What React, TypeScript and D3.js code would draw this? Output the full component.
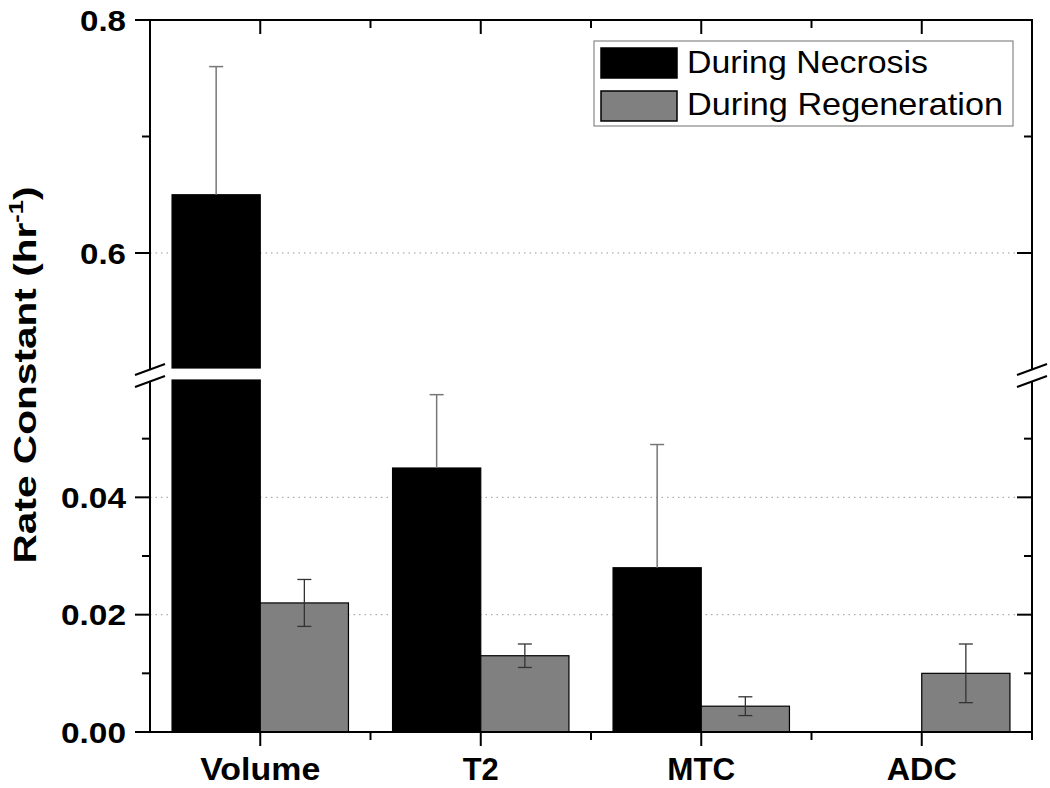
import React from "react";
import * as d3 from "d3";

const categories = ["Volume", "T2", "MTC", "ADC"];
const necrosis = [0.65, 0.045, 0.028, 0];
const necrosisErr = [0.11, 0.0125, 0.021, 0];
const regeneration = [0.022, 0.013, 0.0044, 0.010];
const regenerationErr = [0.004, 0.002, 0.0016, 0.005];
const seriesNames = ["During Necrosis", "During Regeneration"];
const lowTicksMajor = [0, 0.02, 0.04];
const lowTicksMinor = [0.01, 0.03, 0.05];
const highTicksMajor = [0.6, 0.8];
const highTicksMinor = [0.7];

const W = 1050, H = 788;
const left = 150, right = 1032, top = 20, bottom = 732;
const LOW_MAX = 0.06, HIGH_MIN = 0.5;

// measured label widths (horizontal stretch of the original rendering)
const catLabelWidth: Record<string, number> = { Volume: 120, T2: 36, MTC: 68, ADC: 70 };
const legendWidth = [241, 316];

export default function App() {
  const x = d3.scaleBand<string>().domain(categories).range([left, right]).padding(0);
  const yLow = d3.scaleLinear().domain([0, LOW_MAX]).range([bottom, 380]);
  const yHigh = d3.scaleLinear().domain([HIGH_MIN, 0.8]).range([369.5, top]);
  const bw = x.bandwidth() * 0.4;
  const fmtLow = d3.format(".2f");
  const fmtHigh = d3.format(".1f");

  const barParts = (v: number, x0: number, fill: string, key: string) => {
    const parts: JSX.Element[] = [];
    if (v <= 0) return parts;
    const lowTop = yLow(Math.min(v, LOW_MAX));
    parts.push(
      <rect key={key + "l"} x={x0} y={lowTop} width={bw} height={bottom - lowTop}
        fill={fill} stroke="#000" strokeWidth={1.2} />
    );
    if (v > LOW_MAX) {
      const hTop = yHigh(v);
      parts.push(
        <rect key={key + "h"} x={x0} y={hTop} width={bw} height={yHigh(HIGH_MIN) - 1.5 - hTop}
          fill={fill} stroke="#000" strokeWidth={1.2} />
      );
    }
    return parts;
  };
  const yOf = (v: number) => (v > LOW_MAX ? yHigh(v) : yLow(v));

  const tickFont = { fontFamily: "Liberation Sans, Arial, sans-serif", fontWeight: 700 as const };

  const breakMarks = (cx: number, key: string) => (
    <g key={key}>
      <rect x={cx - 6} y={370} width={12} height={11} fill="#fff" />
      <line x1={cx - 15} y1={375} x2={cx + 15} y2={364} stroke="#000" strokeWidth={2} />
      <line x1={cx - 15} y1={387} x2={cx + 15} y2={376} stroke="#000" strokeWidth={2} />
    </g>
  );

  const tickLabel = (txt: string, y: number) => (
    <text x={126} y={y} dy="0.36em" textAnchor="end" fontSize={30}
      textLength={txt.length === 3 ? 46 : 65} lengthAdjust="spacingAndGlyphs" {...tickFont}>{txt}</text>
  );

  return (
    <svg width={W} height={H} style={{ position: "absolute", left: 0, top: 0, background: "#fff" }}>
      <rect x={0} y={0} width={W} height={H} fill="#fff" />
      {/* grid lines */}
      {lowTicksMajor.filter((t) => t > 0).map((t) => (
        <line key={"gl" + t} x1={left} x2={right} y1={yLow(t)} y2={yLow(t)}
          stroke="#999" strokeWidth={1} strokeDasharray="1.5,4" />
      ))}
      {highTicksMajor.filter((t) => t < 0.8).map((t) => (
        <line key={"gh" + t} x1={left} x2={right} y1={yHigh(t)} y2={yHigh(t)}
          stroke="#999" strokeWidth={1} strokeDasharray="1.5,4" />
      ))}
      {/* bars */}
      {categories.map((c, i) => {
        const cx = (x(c) as number) + x.bandwidth() / 2;
        return (
          <g key={c}>
            {barParts(necrosis[i], cx - bw, "#000", c + "n")}
            {barParts(regeneration[i], cx, "#808080", c + "r")}
          </g>
        );
      })}
      {/* error bars */}
      {categories.map((c, i) => {
        const cx = (x(c) as number) + x.bandwidth() / 2;
        const nx = cx - bw / 2;
        const rx = cx + bw / 2;
        const els: JSX.Element[] = [];
        if (necrosis[i] > 0) {
          const y0 = yOf(necrosis[i]);
          const y1 = yOf(necrosis[i] + necrosisErr[i]);
          els.push(<line key="n1" x1={nx} x2={nx} y1={y0} y2={y1} stroke="#777" strokeWidth={1.5} />);
          els.push(<line key="n2" x1={nx - 7} x2={nx + 7} y1={y1} y2={y1} stroke="#777" strokeWidth={1.5} />);
        }
        if (regeneration[i] > 0) {
          const yt = yLow(regeneration[i] + regenerationErr[i]);
          const yb = yLow(regeneration[i] - regenerationErr[i]);
          els.push(<line key="r1" x1={rx} x2={rx} y1={yt} y2={yb} stroke="#333" strokeWidth={1.3} />);
          els.push(<line key="r2" x1={rx - 7} x2={rx + 7} y1={yt} y2={yt} stroke="#333" strokeWidth={1.3} />);
          els.push(<line key="r3" x1={rx - 7} x2={rx + 7} y1={yb} y2={yb} stroke="#333" strokeWidth={1.3} />);
        }
        return <g key={"e" + c}>{els}</g>;
      })}
      {/* frame */}
      <line x1={left} x2={right} y1={top} y2={top} stroke="#000" strokeWidth={2} />
      <line x1={left} x2={right} y1={bottom} y2={bottom} stroke="#000" strokeWidth={2} />
      <line x1={left} x2={left} y1={top - 1} y2={bottom + 1} stroke="#000" strokeWidth={2} />
      <line x1={right} x2={right} y1={top - 1} y2={bottom + 1} stroke="#000" strokeWidth={2} />
      {breakMarks(left, "bl")}
      {breakMarks(right, "br")}
      {/* y ticks */}
      {lowTicksMajor.map((t) => (
        <g key={"lt" + t}>
          <line x1={left - 15} x2={left} y1={yLow(t)} y2={yLow(t)} stroke="#000" strokeWidth={2} />
          <line x1={right - 15} x2={right} y1={yLow(t)} y2={yLow(t)} stroke="#000" strokeWidth={2} />
          {tickLabel(fmtLow(t), yLow(t))}
        </g>
      ))}
      {lowTicksMinor.map((t) => (
        <g key={"lm" + t}>
          <line x1={left - 8} x2={left} y1={yLow(t)} y2={yLow(t)} stroke="#000" strokeWidth={2} />
          <line x1={right - 8} x2={right} y1={yLow(t)} y2={yLow(t)} stroke="#000" strokeWidth={2} />
        </g>
      ))}
      {highTicksMajor.map((t) => (
        <g key={"ht" + t}>
          <line x1={left - 15} x2={left} y1={yHigh(t)} y2={yHigh(t)} stroke="#000" strokeWidth={2} />
          <line x1={right - 15} x2={right} y1={yHigh(t)} y2={yHigh(t)} stroke="#000" strokeWidth={2} />
          {tickLabel(fmtHigh(t), yHigh(t))}
        </g>
      ))}
      {highTicksMinor.map((t) => (
        <g key={"hm" + t}>
          <line x1={left - 8} x2={left} y1={yHigh(t)} y2={yHigh(t)} stroke="#000" strokeWidth={2} />
          <line x1={right - 8} x2={right} y1={yHigh(t)} y2={yHigh(t)} stroke="#000" strokeWidth={2} />
        </g>
      ))}
      {/* x ticks */}
      {categories.map((c) => {
        const x0 = x(c) as number;
        const cx = x0 + x.bandwidth() / 2;
        const x1 = x0 + x.bandwidth();
        return (
          <g key={"xt" + c}>
            <line x1={cx} x2={cx} y1={bottom} y2={bottom + 14} stroke="#000" strokeWidth={2} />
            <line x1={x1} x2={x1} y1={bottom} y2={bottom + 8} stroke="#000" strokeWidth={2} />
            <line x1={cx} x2={cx} y1={top} y2={top + 14} stroke="#000" strokeWidth={2} />
            <line x1={x1} x2={x1} y1={top} y2={top + 8} stroke="#000" strokeWidth={2} />
            <text x={cx} y={780} textAnchor="middle" fontSize={31} textLength={catLabelWidth[c]}
              lengthAdjust="spacingAndGlyphs" {...tickFont}>{c}</text>
          </g>
        );
      })}
      {/* y label */}
      <g transform="translate(36,375) rotate(-90) scale(1.27,1)">
        <text textAnchor="middle" fontSize={32} {...tickFont}>
          Rate Constant (hr<tspan fontSize={20} dy={-13}>-1</tspan><tspan dy={13}>)</tspan>
        </text>
      </g>
      {/* legend */}
      <rect x={594} y={41} width={419} height={85} fill="#fff" stroke="#888" strokeWidth={1.2} />
      {seriesNames.map((s, i) => (
        <g key={s}>
          <rect x={601} y={48 + i * 43} width={76} height={30} fill={i === 0 ? "#000" : "#808080"}
            stroke="#000" strokeWidth={1.5} />
          <text x={687} y={73 + i * 42} fontSize={32} textLength={legendWidth[i]} lengthAdjust="spacingAndGlyphs"
            fontFamily="Liberation Sans, Arial, sans-serif">{s}</text>
        </g>
      ))}
    </svg>
  );
}
